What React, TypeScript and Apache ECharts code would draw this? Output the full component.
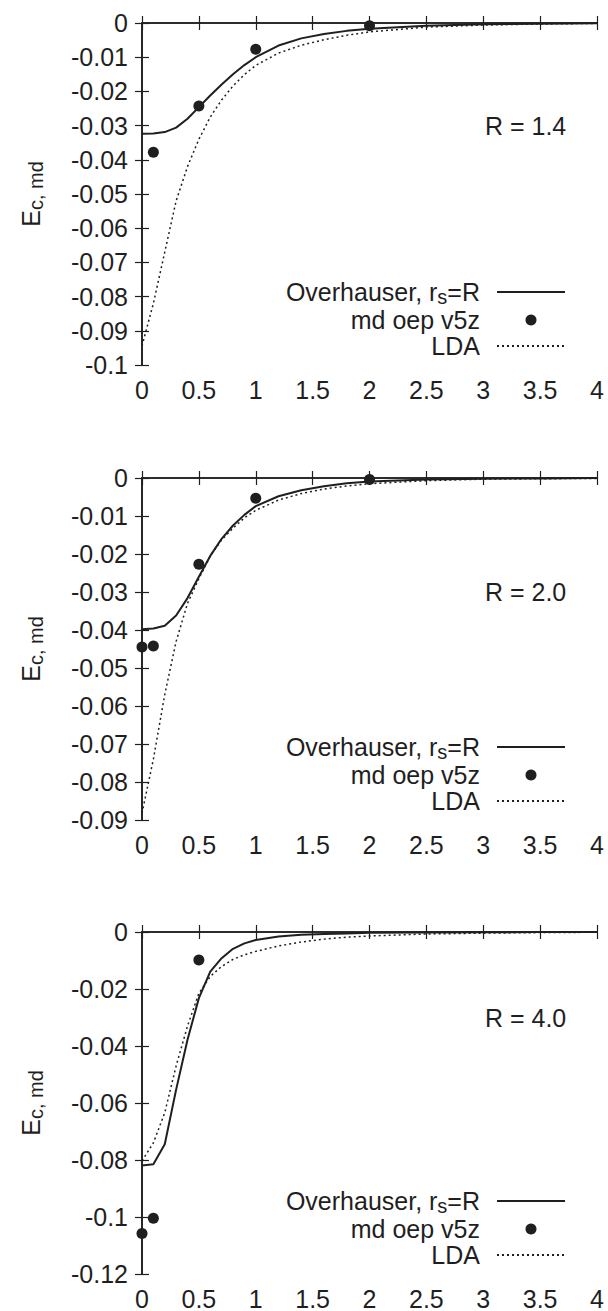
import React, { useEffect, useRef } from "react";
import * as echarts from "echarts";

// shared abscissa for the curves
const xs = [0, 0.1, 0.2, 0.3, 0.4, 0.5, 0.6, 0.7, 0.8, 0.9, 1.0, 1.2, 1.4, 1.6, 1.8, 2.0, 2.5, 3.0, 3.5, 4.0];

// R = 1.4
const ovh14 = [-0.0324, -0.0323, -0.0319, -0.0306, -0.028, -0.0246, -0.0212, -0.018, -0.015, -0.0123, -0.01, -0.0066, -0.0045, -0.0032, -0.0023, -0.0017, -0.0008, -0.0004, -0.0002, -0.0001];
const lda14 = [-0.0944, -0.082, -0.067, -0.052, -0.042, -0.034, -0.0275, -0.0225, -0.0184, -0.0151, -0.0124, -0.0088, -0.0065, -0.0049, -0.0036, -0.0026, -0.0012, -0.0006, -0.0003, -0.0001];
const oepX14 = [0.1, 0.5, 1.0, 2.0];
const oepY14 = [-0.0378, -0.0243, -0.0077, -0.0008];

// R = 2.0
const ovh20 = [-0.0398, -0.0396, -0.0389, -0.0362, -0.0316, -0.026, -0.0205, -0.016, -0.0125, -0.0097, -0.0074, -0.0048, -0.0032, -0.0022, -0.0014, -0.0009, -0.0004, -0.0002, -0.0001, 0];
const lda20 = [-0.0882, -0.074, -0.057, -0.043, -0.033, -0.0265, -0.0205, -0.0163, -0.0132, -0.0105, -0.0085, -0.0058, -0.0041, -0.0029, -0.0021, -0.0015, -0.0007, -0.0003, -0.0002, -0.0001];
const oepX20 = [0, 0.1, 0.5, 1.0, 2.0];
const oepY20 = [-0.0445, -0.0442, -0.0227, -0.0053, -0.0004];

// R = 4.0
const ovh40 = [-0.0819, -0.0815, -0.0745, -0.0553, -0.0378, -0.0232, -0.0139, -0.0092, -0.0059, -0.004, -0.0028, -0.0016, -0.001, -0.0007, -0.0005, -0.0003, -0.0002, -0.0001, 0, 0];
const lda40 = [-0.0803, -0.074, -0.0634, -0.047, -0.033, -0.0215, -0.0156, -0.0121, -0.0096, -0.008, -0.0068, -0.0049, -0.0035, -0.0025, -0.0018, -0.0014, -0.0007, -0.0004, -0.0002, -0.0001];
const oepX40 = [0, 0.1, 0.5];
const oepY40 = [-0.1058, -0.1004, -0.0098];

const panelTitles = ["R = 1.4", "R = 2.0", "R = 4.0"];
const yMins = [-0.1, -0.09, -0.12];
const yIntervals = [0.01, 0.01, 0.02];
const xMin = 0;
const xMax = 4;
const xInterval = 0.5;
const labelAt = [3.73, -0.03];

const seriesNames = ["Overhauser, r_s=R", "md oep v5z", "LDA"];
const yTitle = "{m|E}{s|c, md}";

const FONT = "Liberation Sans, Arial, Helvetica, sans-serif";
const INK = "#1f1f1f";
const FS = 25;
const SUB = 20;

const gridTops = [23, 478, 932];
const gridLeft = 142;
const gridWidth = 455;
const gridHeight = 342;

const panels = [
  { ovh: ovh14, lda: lda14, ox: oepX14, oy: oepY14 },
  { ovh: ovh20, lda: lda20, ox: oepX20, oy: oepY20 },
  { ovh: ovh40, lda: lda40, ox: oepX40, oy: oepY40 },
];

function pairs(x: number[], y: number[]) {
  return x.map((v, i) => [v, y[i]]);
}

const mainTok = { fontSize: FS, fontFamily: FONT, color: INK, lineHeight: 26 };
const subTok = { fontSize: SUB, fontFamily: FONT, color: INK, lineHeight: 26, padding: [10, 0, 0, 0] };

export default function App() {
  const ref = useRef<HTMLDivElement>(null);
  useEffect(() => {
    if (!ref.current) return;
    const chart = echarts.init(ref.current, undefined, { renderer: "svg" });

    const grids: any[] = [];
    const xAxes: any[] = [];
    const yAxes: any[] = [];
    const series: any[] = [];
    const legends: any[] = [];

    const axisLine = { show: true, lineStyle: { color: INK, width: 1.6 } };
    const axisTick = { show: true, inside: true, length: 7, lineStyle: { color: INK, width: 1.2 } };

    panels.forEach((p, i) => {
      grids.push({ left: gridLeft, top: gridTops[i], width: gridWidth, height: gridHeight, containLabel: false });
      const xBase = {
        type: "value",
        gridIndex: i,
        min: xMin,
        max: xMax,
        interval: xInterval,
        splitLine: { show: false },
        axisLine,
        axisTick,
      };
      xAxes.push({
        ...xBase,
        position: "bottom",
        axisLabel: { show: true, fontSize: FS, fontFamily: FONT, color: INK, margin: 12 },
      });
      xAxes.push({ ...xBase, position: "top", axisLabel: { show: false } });
      const yBase = {
        type: "value",
        gridIndex: i,
        min: yMins[i],
        max: 0,
        interval: yIntervals[i],
        splitLine: { show: false },
        axisLine,
        axisTick,
      };
      yAxes.push({
        ...yBase,
        position: "left",
        axisLabel: { show: true, fontSize: FS, fontFamily: FONT, color: INK, margin: 14 },
        name: yTitle,
        nameLocation: "middle",
        nameRotate: 90,
        nameGap: 98,
        nameTextStyle: {
          fontSize: FS,
          fontFamily: FONT,
          color: INK,
          lineHeight: 26,
          rich: { m: mainTok, s: subTok },
        },
      });
      yAxes.push({ ...yBase, position: "right", axisLabel: { show: false } });

      series.push({
        name: seriesNames[0],
        type: "line",
        xAxisIndex: 2 * i,
        yAxisIndex: 2 * i,
        data: pairs(xs, p.ovh),
        symbol: "none",
        lineStyle: { color: INK, width: 2 },
        itemStyle: { color: INK, opacity: 0 },
        z: 2,
      });
      series.push({
        name: seriesNames[1],
        type: "scatter",
        xAxisIndex: 2 * i,
        yAxisIndex: 2 * i,
        data: pairs(p.ox, p.oy),
        symbol: "circle",
        symbolSize: 11,
        itemStyle: { color: INK, opacity: 1 },
        clip: false,
        z: 4,
      });
      series.push({
        name: seriesNames[2],
        type: "line",
        xAxisIndex: 2 * i,
        yAxisIndex: 2 * i,
        data: pairs(xs, p.lda),
        symbol: "none",
        lineStyle: { color: INK, width: 1.5, type: [2, 3] },
        itemStyle: { color: INK, opacity: 0 },
        z: 3,
      });

      legends.push({
        data: [
          { name: seriesNames[0], itemStyle: { opacity: 0 } },
          { name: seriesNames[1], itemStyle: { opacity: 1 } },
          { name: seriesNames[2], itemStyle: { opacity: 0 } },
        ],
        orient: "vertical",
        align: "right",
        right: 608 - 566,
        top: gridTops[i] + gridHeight - 88,
        padding: 0,
        itemGap: 0,
        itemWidth: 68,
        itemHeight: 11,
        selectedMode: false,
        formatter: (name: string) =>
          name === seriesNames[0] ? "{a|Overhauser, r}{s|s}{p|=R}" : "{p|" + name + "}",
        textStyle: {
          fontSize: FS,
          fontFamily: FONT,
          color: INK,
          lineHeight: 26,
          rich: {
            a: mainTok,
            s: subTok,
            p: { ...mainTok, padding: [0, 12, 0, 0] },
          },
        },
      });
    });

    chart.setOption({
      animation: false,
      backgroundColor: "#ffffff",
      grid: grids,
      xAxis: xAxes,
      yAxis: yAxes,
      legend: legends,
      series,
    });

    const graphics = panelTitles.map((t, i) => {
      const pt = chart.convertToPixel({ gridIndex: i } as any, labelAt) as number[];
      return {
        type: "text",
        x: pt[0],
        y: pt[1],
        style: {
          text: t,
          fontSize: FS,
          fontFamily: FONT,
          fill: INK,
          align: "right",
          verticalAlign: "middle",
        },
        z: 10,
      };
    });
    chart.setOption({ graphic: graphics });

    return () => chart.dispose();
  }, []);

  return (
    <div
      ref={ref}
      style={{ position: "fixed", left: 0, top: 0, width: 608, height: 1311, background: "#fff" }}
    />
  );
}
